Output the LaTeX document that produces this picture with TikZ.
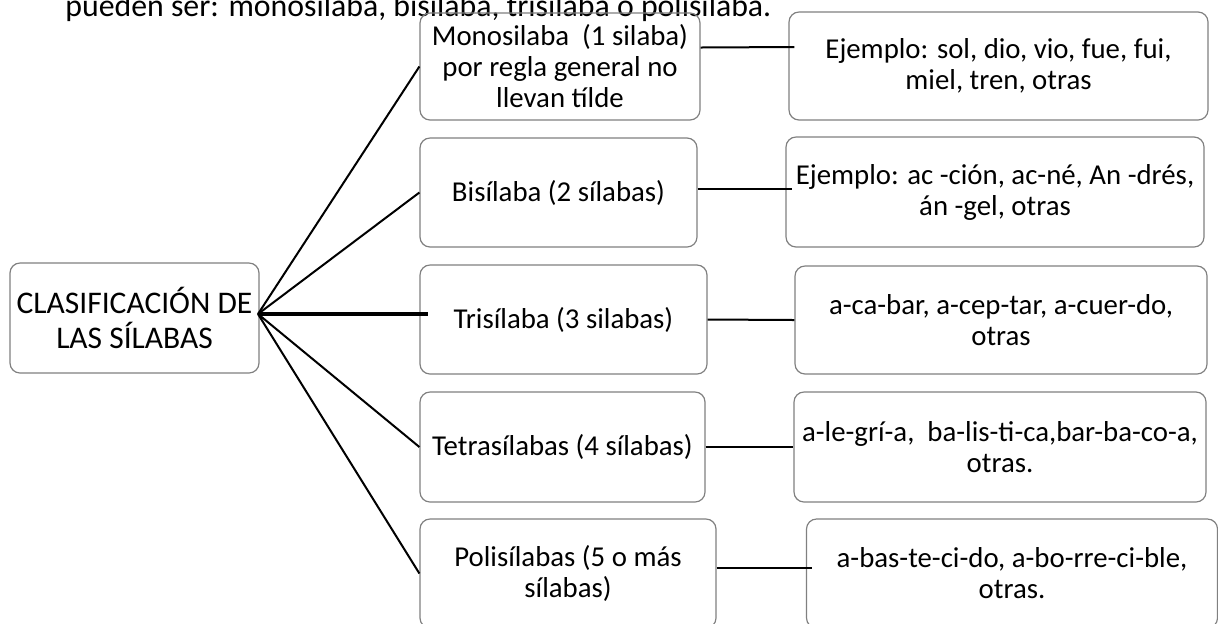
\documentclass[tikz,border=0pt]{standalone}
\usepackage{fontspec}
\setmainfont{Carlito}
\usetikzlibrary{calc}
\definecolor{boxgray}{RGB}{128,128,128}
\newcommand{\BoxFont}{\fontsize{14.4}{15.5}\selectfont}
\tikzset{box/.style={draw=boxgray,line width=.6pt,rounded corners=5pt,align=center,inner sep=0pt,font=\BoxFont}}
\tikzset{link/.style={line width=1pt,black}}
\tikzset{hublink/.style={line width=1.75pt,black}}

\begin{document}
\begin{tikzpicture}[x=.5pt,y=-.5pt]
\useasboundingbox(0,0)rectangle(1218,623);
\node[anchor=base west,inner sep=0pt,font=\fontsize{15.9}{17}\selectfont](intro)at(65,16){pueden ser: monosilaba, bisilaba, trisilaba o polisilaba.};
% root and the five kinds
\node[box,minimum width=124.5pt,minimum height=55pt,font=\fontsize{15.75}{17.5}\selectfont](root)at(134.5,318){CLASIFICACIÓN DE\\LAS SÍLABAS};
\node[box,minimum width=140pt,minimum height=53.5pt](mono)at(560,66.5){Monosilaba~ (1 silaba)\\por regla general no\\llevan tílde};
\node[box,minimum width=138.5pt,minimum height=54.5pt](bi)at(558.5,192.5){Bisílaba (2 sílabas)};
\node[box,minimum width=143.5pt,minimum height=54.5pt](tri)at(563.5,319.5){Trisílaba (3 silabas)};
\node[box,minimum width=142.5pt,minimum height=55pt](tetra)at(562.5,447){Tetrasílabas (4 sílabas)};
\node[box,minimum width=148pt,minimum height=54.5pt](poli)at(568,573.5){Polisílabas (5 o más\\sílabas)};
% examples
\node[box,minimum width=209.5pt,minimum height=54pt](ex1)at(998.5,66){Ejemplo: sol, dio, vio, fue, fui,\\miel, tren, otras};
\node[box,minimum width=209pt,minimum height=55pt](ex2)at(995,192){Ejemplo: ac -ción, ac-né, An -drés,\\án -gel, otras};
\node[box,minimum width=206pt,minimum height=54pt](ex3)at(1001,320){a-ca-bar, a-cep-tar, a-cuer-do,\\otras};
\node[box,minimum width=206pt,minimum height=55pt](ex4)at(1000,447){a-le-grí-a,~ ba-lis-ti-ca,bar-ba-co-a,\\otras.};
\node[box,minimum width=205.5pt,minimum height=54.5pt](ex5)at(1012,573.5){a-bas-te-ci-do, a-bo-rre-ci-ble,\\otras.};
% connectors
\coordinate(hub)at(258,314);
\foreach \n in {mono,bi,tetra,poli}{\draw[link](hub)--(\n.west);}
\draw[hublink](hub)--([xshift=4.5pt]hub-|tri.west);
\draw[link]([yshift=9.5pt]mono.east)--([xshift=3pt,yshift=9.5pt]ex1.west);
\draw[link]([yshift=1.75pt]bi.east)--([xshift=3.5pt,yshift=1.5pt]ex2.west);
\draw[link](tri.east)--(ex3.west);
\draw[link](tetra.east)--(ex4.west);
\draw[link]([yshift=2.75pt]poli.east)--([xshift=3pt,yshift=2.75pt]ex5.west);
\end{tikzpicture}
\end{document}
